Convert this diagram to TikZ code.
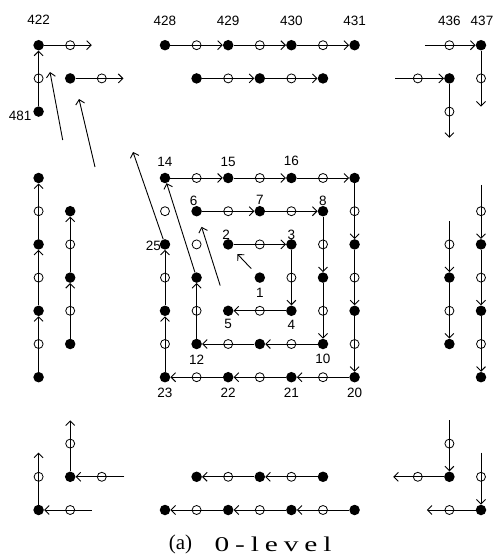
\documentclass[tikz,border=0pt]{standalone}
\usepackage{fontspec}
\setmainfont{Liberation Serif}
\newfontfamily\labfont{Liberation Sans}
\newfontfamily\capfont[FakeStretch=1.4,LetterSpace=28]{Liberation Serif}
\usetikzlibrary{arrows.meta}
\begin{document}
\begin{tikzpicture}[x=31.6pt,y=-33.2pt,
  fdot/.style={circle,fill=black,inner sep=0pt,minimum size=10.5pt},
  odot/.style={circle,draw=black,line width=0.8pt,inner sep=0pt,minimum size=9pt},
  arr/.style={draw=black,line width=0.9pt,-{Straight Barb[length=4.5pt,width=9pt,line width=0.9pt]}},
  lab/.style={inner sep=0pt,font=\labfont\fontsize{13.5}{13.5}\selectfont},
  captext/.style={inner sep=0pt,font=\fontsize{21}{21}\selectfont}]
\useasboundingbox (-5.2215,-5.3614) rectangle (10.5063,11.4157);
% central 7x7 grid
\foreach \c in {0,...,6}{\foreach \r in {0,...,6}{
  \pgfmathtruncatemacro\p{mod(\c+\r,2)}
  \ifnum\c\r=23\relax\else
    \ifnum\p=0 \node[fdot] (n\c\r) at (\c,\r) {};\else\node[odot] (n\c\r) at (\c,\r) {};\fi
  \fi}}
% outer spiral of the centre
\draw[arr] (n00) -- (n20); \draw[arr] (n20) -- (n40); \draw[arr] (n40) -- (n60);
\draw[arr] (n60) -- (n62); \draw[arr] (n62) -- (n64); \draw[arr] (n64) -- (n66);
\draw[arr] (n66) -- (n46); \draw[arr] (n46) -- (n26); \draw[arr] (n26) -- (n06);
\draw[arr] (n06) -- (n04); \draw[arr] (n04) -- (n02);
\draw[arr] (n11) -- (n31); \draw[arr] (n31) -- (n51); \draw[arr] (n51) -- (n53);
\draw[arr] (n53) -- (n55); \draw[arr] (n55) -- (n35); \draw[arr] (n35) -- (n15);
\draw[arr] (n15) -- (n13);
\draw[arr] (n22) -- (n42); \draw[arr] (n42) -- (n44); \draw[arr] (n44) -- (n24);
% level arrows
\coordinate (la) at (-1.0127,-0.7831);
\draw[arr] (n02) -- (la);
\draw[arr] (n13) -- (n00);
\draw[arr,shorten <=21pt,shorten >=11pt] (n24) -- (n11);
\draw[arr,shorten <=7pt,shorten >=8pt] (n33) -- (n22);
\coordinate (lb1) at (-2.2152,-0.3313); \coordinate (lb2) at (-2.7215,-2.3795);
\draw[arr] (lb1) -- (lb2);
\coordinate (lc1) at (-3.2373,-1.1446); \coordinate (lc2) at (-3.6392,-3.1928);
\draw[arr] (lc1) -- (lc2);
% top left
\node[fdot] (a422) at (-4,-4) {};
\node[odot] (a422o) at (-3,-4) {};
\coordinate (a422e) at (-2,-4);
\node[odot] (a481o) at (-4,-3) {};
\node[fdot] (a481) at (-4,-2) {};
\node[fdot] (b1) at (-3,-3) {};
\node[odot] (b1o) at (-2,-3) {};
\coordinate (b1e) at (-1,-3);
\draw[arr,shorten >=10pt] (a422) -- (a422e);
\draw[arr] (a481) -- (a422);
\draw[arr,shorten >=10pt] (b1) -- (b1e);
% top middle
\node[fdot] (t428) at (0,-4) {}; \node[odot] (t428o) at (1,-4) {};
\node[fdot] (t429) at (2,-4) {}; \node[odot] (t429o) at (3,-4) {};
\node[fdot] (t430) at (4,-4) {}; \node[odot] (t430o) at (5,-4) {};
\node[fdot] (t431) at (6,-4) {};
\draw[arr] (t428) -- (t429); \draw[arr] (t429) -- (t430); \draw[arr] (t430) -- (t431);
\node[fdot] (u1) at (1,-3) {}; \node[odot] (u1o) at (2,-3) {};
\node[fdot] (u3) at (3,-3) {}; \node[odot] (u3o) at (4,-3) {};
\node[fdot] (u5) at (5,-3) {};
\draw[arr] (u1) -- (u3); \draw[arr] (u3) -- (u5);
% top right
\coordinate (r437s) at (8,-4); \node[odot] (r437o) at (9,-4) {};
\node[fdot] (r437) at (10,-4) {}; \node[odot] (r437d) at (10,-3) {};
\coordinate (r437e) at (10,-2);
\draw[arr,shorten <=7pt] (r437s) -- (r437); \draw[arr,shorten >=5pt] (r437) -- (r437e);
\coordinate (r436s) at (7,-3); \node[odot] (r436o) at (8,-3) {};
\node[fdot] (r436) at (9,-3) {}; \node[odot] (r436d) at (9,-2) {};
\coordinate (r436e) at (9,-1);
\draw[arr,shorten <=9pt] (r436s) -- (r436); \draw[arr,shorten >=7pt] (r436) -- (r436e);
% right side
\coordinate (s9) at (9,1); \node[odot] (s9o2) at (9,2) {};
\node[fdot] (s9f3) at (9,3) {}; \node[odot] (s9o4) at (9,4) {};
\node[fdot] (s9f5) at (9,5) {};
\draw[arr,shorten <=10pt] (s9) -- (s9f3); \draw[arr] (s9f3) -- (s9f5);
\coordinate (s10) at (10,0); \node[odot] (s10o1) at (10,1) {};
\node[fdot] (s10f2) at (10,2) {}; \node[odot] (s10o3) at (10,3) {};
\node[fdot] (s10f4) at (10,4) {}; \node[odot] (s10o5) at (10,5) {};
\node[fdot] (s10f6) at (10,6) {};
\draw[arr,shorten <=7pt] (s10) -- (s10f2); \draw[arr] (s10f2) -- (s10f4); \draw[arr] (s10f4) -- (s10f6);
% left side
\node[fdot] (l4f0) at (-4,0) {}; \node[odot] (l4o1) at (-4,1) {};
\node[fdot] (l4f2) at (-4,2) {}; \node[odot] (l4o3) at (-4,3) {};
\node[fdot] (l4f4) at (-4,4) {}; \node[odot] (l4o5) at (-4,5) {};
\node[fdot] (l4f6) at (-4,6) {};
\draw[arr] (l4f6) -- (l4f4); \draw[arr] (l4f4) -- (l4f2); \draw[arr] (l4f2) -- (l4f0);
\node[fdot] (l3f1) at (-3,1) {}; \node[odot] (l3o2) at (-3,2) {};
\node[fdot] (l3f3) at (-3,3) {}; \node[odot] (l3o4) at (-3,4) {};
\node[fdot] (l3f5) at (-3,5) {};
\draw[arr] (l3f5) -- (l3f3); \draw[arr] (l3f3) -- (l3f1);
% bottom left
\node[fdot] (bl1) at (-4,10) {}; \node[odot] (bl1o) at (-3,10) {};
\coordinate (bl1s) at (-2,10); \node[odot] (bl1u) at (-4,9) {};
\coordinate (bl1e) at (-4,8);
\draw[arr,shorten <=10pt] (bl1s) -- (bl1); \draw[arr,shorten >=9pt] (bl1) -- (bl1e);
\node[fdot] (bl2) at (-3,9) {}; \node[odot] (bl2o) at (-2,9) {};
\coordinate (bl2s) at (-1,9); \node[odot] (bl2u) at (-3,8) {};
\coordinate (bl2e) at (-3,7);
\draw[arr,shorten <=9pt] (bl2s) -- (bl2); \draw[arr,shorten >=10pt] (bl2) -- (bl2e);
% bottom middle
\node[fdot] (bm1) at (1,9) {}; \node[odot] (bm2) at (2,9) {};
\node[fdot] (bm3) at (3,9) {}; \node[odot] (bm4) at (4,9) {};
\node[fdot] (bm5) at (5,9) {};
\draw[arr] (bm5) -- (bm3); \draw[arr] (bm3) -- (bm1);
\node[fdot] (bn0) at (0,10) {}; \node[odot] (bn1) at (1,10) {};
\node[fdot] (bn2) at (2,10) {}; \node[odot] (bn3) at (3,10) {};
\node[fdot] (bn4) at (4,10) {}; \node[odot] (bn5) at (5,10) {};
\node[fdot] (bn6) at (6,10) {};
\draw[arr] (bn6) -- (bn4); \draw[arr] (bn4) -- (bn2); \draw[arr] (bn2) -- (bn0);
% bottom right
\node[fdot] (br1) at (9,9) {}; \node[odot] (br1u) at (9,8) {};
\coordinate (br1s) at (9,7); \node[odot] (br1o) at (8,9) {};
\coordinate (br1e) at (7,9);
\draw[arr,shorten <=10pt] (br1s) -- (br1); \draw[arr,shorten >=7pt] (br1) -- (br1e);
\node[fdot] (br2) at (10,10) {}; \node[odot] (br2u) at (10,9) {};
\coordinate (br2s) at (10,8); \node[odot] (br2o) at (9,10) {};
\coordinate (br2e) at (8,10);
\draw[arr,shorten <=9pt] (br2s) -- (br2); \draw[arr,shorten >=9pt] (br2) -- (br2e);
% labels
\node[lab] (L422) at ([yshift=25pt]a422) {422};
\node[lab] (L428) at ([yshift=24pt]t428) {428};
\node[lab] (L429) at ([yshift=24pt]t429) {429};
\node[lab] (L430) at ([yshift=24pt]t430) {430};
\node[lab] (L431) at ([yshift=24pt]t431) {431};
\node[lab] (L436) at ([yshift=24pt]r437o) {436};
\node[lab] (L437) at ([xshift=1pt,yshift=24pt]r437) {437};
\node[lab,anchor=east] (L481) at ([xshift=-7pt,yshift=-4pt]a481) {481};
\node[lab] (L14) at ([yshift=16.5pt]n00) {14};
\node[lab] (L15) at ([yshift=16.5pt]n20) {15};
\node[lab] (L16) at ([yshift=17pt]n40) {16};
\node[lab] (L6) at ([xshift=-3pt,yshift=10.5pt]n11) {6};
\node[lab] (L7) at ([yshift=11pt]n31) {7};
\node[lab] (L8) at ([yshift=10.5pt]n51) {8};
\node[lab] (L2) at ([xshift=-2pt,yshift=10pt]n22) {2};
\node[lab] (L3) at ([yshift=10pt]n42) {3};
\node[lab,anchor=east] (L25) at ([xshift=-4pt,yshift=-1.5pt]n02) {25};
\node[lab] (L1) at ([yshift=-15pt]n33) {1};
\node[lab] (L5) at ([yshift=-13pt]n24) {5};
\node[lab] (L4) at ([yshift=-14pt]n44) {4};
\node[lab] (L12) at ([yshift=-16pt]n15) {12};
\node[lab] (L10) at ([yshift=-15pt]n55) {10};
\node[lab] (L23) at ([yshift=-16pt]n06) {23};
\node[lab] (L22) at ([yshift=-16pt]n26) {22};
\node[lab] (L21) at ([yshift=-16pt]n46) {21};
\node[lab] (L20) at ([yshift=-16pt]n66) {20};
% caption
\node[captext] (capa) at (0.4905,11.024) {(a)};
\node[captext] (capb) at (3.4177,11.024) {\capfont 0-level};
\end{tikzpicture}
\end{document}
